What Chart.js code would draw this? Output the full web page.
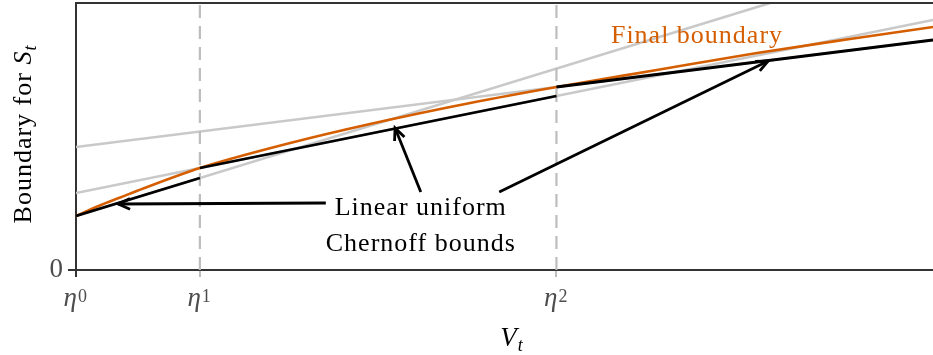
<!DOCTYPE html>
<html>
<head>
<meta charset="utf-8">
<script src="https://cdn.jsdelivr.net/npm/chart.js@4"></script>
<style>
  html, body { margin: 0; padding: 0; background: #fff; }
  canvas { display: block; }
</style>
</head>
<body>
<canvas id="chart" width="933" height="355"></canvas>
<script>
// V_t positions of eta^0, eta^1, eta^2 (eta ~ 2.88)
const etaTicks = [1, 2.879, 8.288];
const etaPowers = ["0", "1", "2"];
const vMin = 1, vMax = 14;
const sMax = 26.7;

// final boundary (the curved one)
const finalV = [1.00, 1.36, 1.67, 2.02, 2.88, 4.25, 5.46, 6.98, 8.29, 9.81, 11.33, 12.74, 14.00];
const finalS = [5.4, 6.45, 7.25, 8.15, 10.2, 12.7, 14.6, 16.7, 18.3, 20.0, 21.7, 23.1, 24.3];

// linear uniform Chernoff bounds, only the piece used on each epoch
const boundV = [[1, 2.879], [2.879, 8.288], [8.288, 14]];
const boundS = [[5.4, 9.2], [10.2, 17.4], [18.3, 23.0]];

// the same three bounds over the whole range
const extV = [[1, 11.53], [1, 14], [1, 14]];
const extS = [[5.4, 26.7], [7.7, 25.0], [12.3, 23.0]];

const ORANGE = "#d55e00";
const FONT = '"Liberation Serif", "DejaVu Serif", serif';

const pts = (xs, ys) => xs.map((x, i) => ({ x, y: ys[i] }));

const datasets = [];
boundV.forEach((xs, i) => datasets.push({
    data: pts(xs, boundS[i]), borderColor: "#000", borderWidth: 2.8, order: 0,
}));
datasets.push({
    data: pts(finalV, finalS), borderColor: ORANGE, borderWidth: 2.6,
    cubicInterpolationMode: "monotone", order: 1,
});
etaTicks.slice(1).forEach((v) => datasets.push({
    data: [{ x: v, y: 0 }, { x: v, y: sMax }], borderColor: "#bdbdbd",
    borderWidth: 2.2, borderDash: [13, 8], order: 2,
}));
extV.forEach((xs, i) => datasets.push({
    data: pts(xs, extS[i]), borderColor: "#c9c9c9", borderWidth: 2.6, order: 3,
}));
datasets.forEach((d) => { d.showLine = true; d.pointRadius = 0; d.fill = false; });

// arrows from the label to the bounds: [tailV, tailS, tipV, tipS]
const arrows = [
    [4.79, 6.7, 1.64, 6.6],
    [6.23, 7.8, 5.84, 14.2],
    [7.42, 7.8, 11.50, 20.9],
];

// draws a run of text pieces with different fonts, starting at x
function drawPieces(ctx, pieces, x, y) {
    pieces.forEach((p) => {
        ctx.font = p.font;
        ctx.fillText(p.text, x, y + (p.dy || 0));
        x += ctx.measureText(p.text).width;
    });
}

function piecesWidth(ctx, pieces) {
    return pieces.reduce((w, p) => { ctx.font = p.font; return w + ctx.measureText(p.text).width; }, 0);
}

const decor = {
    id: "decor",
    afterDatasetsDraw(chart) {
        const { ctx, chartArea: a, scales: { x, y } } = chart;
        ctx.save();

        // top frame
        ctx.strokeStyle = "#333";
        ctx.lineWidth = 2;
        ctx.beginPath();
        ctx.moveTo(a.left, a.top);
        ctx.lineTo(a.right, a.top);
        ctx.stroke();

        // arrows with open heads
        ctx.strokeStyle = "#000";
        ctx.lineWidth = 2.8;
        arrows.forEach(([v0, s0, v1, s1]) => {
            const x0 = x.getPixelForValue(v0), y0 = y.getPixelForValue(s0);
            const x1 = x.getPixelForValue(v1), y1 = y.getPixelForValue(s1);
            const ang = Math.atan2(y1 - y0, x1 - x0);
            ctx.beginPath();
            ctx.moveTo(x0, y0);
            ctx.lineTo(x1, y1);
            ctx.stroke();
            ctx.beginPath();
            ctx.moveTo(x1 - 13 * Math.cos(ang - 0.42), y1 - 13 * Math.sin(ang - 0.42));
            ctx.lineTo(x1, y1);
            ctx.lineTo(x1 - 13 * Math.cos(ang + 0.42), y1 - 13 * Math.sin(ang + 0.42));
            ctx.stroke();
        });

        // annotation text
        ctx.letterSpacing = "1px";
        ctx.textAlign = "center";
        ctx.textBaseline = "alphabetic";
        ctx.font = "26px " + FONT;
        ctx.fillStyle = "#000";
        ctx.fillText("Linear uniform", x.getPixelForValue(6.23), y.getPixelForValue(5.5));
        ctx.fillText("Chernoff bounds", x.getPixelForValue(6.23), y.getPixelForValue(1.9));
        ctx.fillStyle = ORANGE;
        ctx.fillText("Final boundary", x.getPixelForValue(10.42), y.getPixelForValue(22.75));
        ctx.restore();
    },
    afterDraw(chart) {
        const { ctx, scales: { x } } = chart;
        ctx.save();
        ctx.letterSpacing = "1px";
        ctx.textBaseline = "alphabetic";

        // eta^k tick labels
        ctx.fillStyle = "#4d4d4d";
        etaTicks.forEach((v, i) => {
            const px = x.getPixelForValue(v);
            ctx.textAlign = "right";
            ctx.font = "italic 27px " + FONT;
            ctx.fillText("\u03b7", px + 2, 306);
            ctx.textAlign = "left";
            ctx.font = "18px " + FONT;
            ctx.fillText(etaPowers[i], px + 2, 302);
        });

        ctx.textAlign = "left";
        ctx.fillStyle = "#000";

        // x title V_t
        const xt = [
            { text: "V", font: "italic 27px " + FONT },
            { text: "t", font: "italic 18px " + FONT, dy: 5 },
        ];
        drawPieces(ctx, xt, 512 - piecesWidth(ctx, xt) / 2, 346);

        // y title "Boundary for S_t"
        const yt = [
            { text: "Boundary for ", font: "26px " + FONT },
            { text: "S", font: "italic 26px " + FONT },
            { text: "t", font: "italic 18px " + FONT, dy: 5 },
        ];
        ctx.translate(31, 134);
        ctx.rotate(-Math.PI / 2);
        drawPieces(ctx, yt, -piecesWidth(ctx, yt) / 2, 0);
        ctx.restore();
    },
};

new Chart(document.getElementById("chart"), {
    type: "scatter",
    data: { datasets },
    options: {
        responsive: false,
        animation: false,
        devicePixelRatio: 1,
        layout: { padding: { top: 3, left: 0, right: 0, bottom: 0 } },
        plugins: { legend: { display: false }, tooltip: { enabled: false } },
        scales: {
            x: {
                type: "linear",
                min: vMin,
                max: vMax,
                border: { display: true, color: "#333", width: 2 },
                grid: {
                    drawOnChartArea: false,
                    drawTicks: true,
                    tickLength: 7,
                    lineWidth: 2,
                    tickColor: (c) => (c.index === 0 ? "#333" : "#bdbdbd"),
                },
                ticks: { display: false },
                afterBuildTicks: (s) => { s.ticks = etaTicks.map((v) => ({ value: v })); },
                afterFit: (s) => { s.height = 85; s.paddingLeft = 0; s.paddingRight = 0; },
            },
            y: {
                min: 0,
                max: sMax,
                border: { display: true, color: "#333", width: 2 },
                grid: {
                    drawOnChartArea: false,
                    drawTicks: true,
                    tickLength: 8,
                    lineWidth: 2,
                    tickColor: "#333",
                },
                ticks: {
                    padding: 5,
                    color: "#4d4d4d",
                    font: { family: FONT, size: 27 },
                    callback: () => "0",
                },
                afterBuildTicks: (s) => { s.ticks = [{ value: 0 }]; },
                afterFit: (s) => { s.width = 76; s.paddingTop = 0; s.paddingBottom = 0; },
            },
        },
    },
    plugins: [decor],
});
</script>
</body>
</html>
